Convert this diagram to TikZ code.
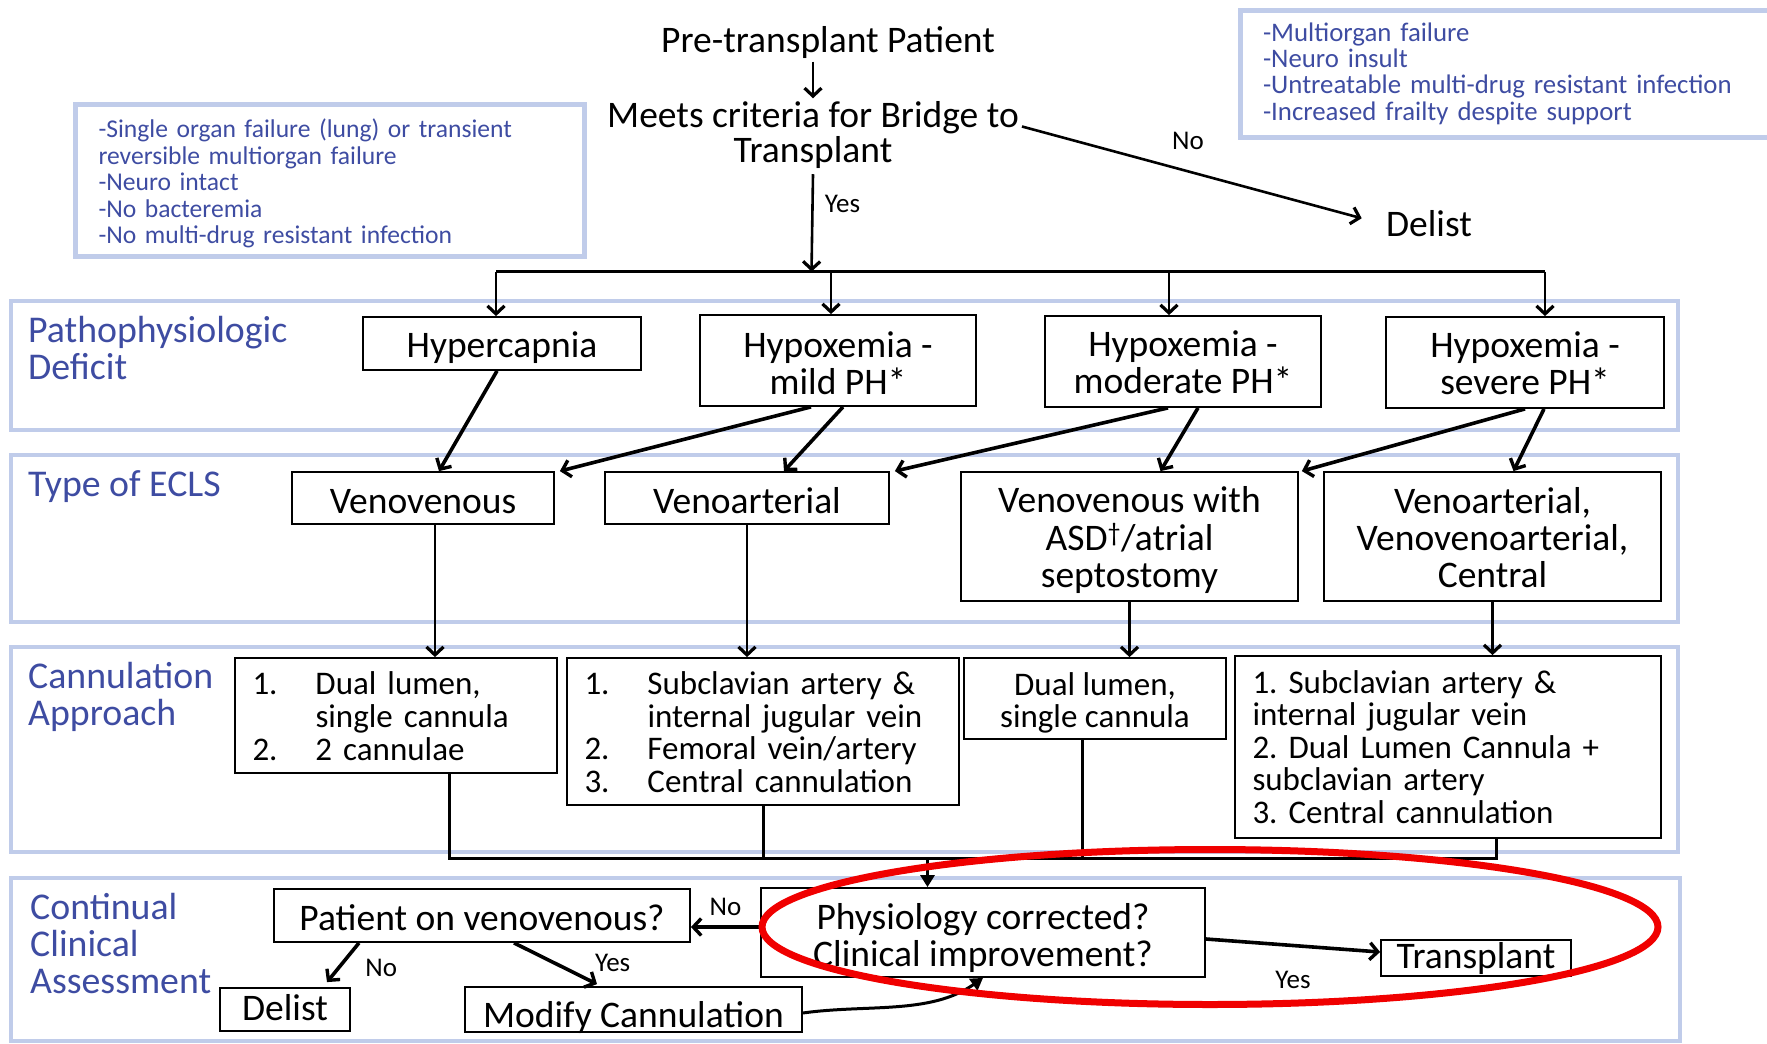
\documentclass[tikz,border=0pt]{standalone}
\usepackage{fontspec}
\setmainfont{Carlito}
\usepackage{tikz}
\usetikzlibrary{positioning,arrows.meta,calc}
\definecolor{bandline}{RGB}{192,204,234}
\definecolor{critblue}{RGB}{62,76,162}
\definecolor{ringred}{RGB}{240,0,0}
\setlength{\parindent}{0pt}
\frenchspacing
% lower a text inside its box, keep the box size
\newcommand{\lowered}[2]{\raisebox{-#1}[\height][\depth]{#2}}
\newcommand{\cstack}[1]{\begin{tabular}{@{}c@{}}#1\end{tabular}}
\tikzset{
  box/.style={rectangle,draw=black,line width=1.8pt,align=center,inner sep=0pt,font=\fontsize{37.5}{37}\selectfont},
  listbox/.style={rectangle,draw=black,line width=1.8pt,align=left,inner xsep=17.5pt,inner ysep=0pt,font=\fontsize{33}{32.5}\selectfont},
  critbox/.style={rectangle,draw=bandline,line width=5pt,align=left,inner xsep=23pt,inner ysep=0pt,text=critblue},
  band/.style={rectangle,draw=bandline,line width=4.5pt},
  bandlabel/.style={anchor=west,align=left,text=critblue,inner sep=0pt,font=\fontsize{37.8}{37}\selectfont},
  txt/.style={align=center,inner sep=3pt,font=\fontsize{37.5}{35}\selectfont},
  tagtxt/.style={inner sep=3pt,font=\fontsize{27}{27}\selectfont},
  arr/.style={-{Straight Barb[length=8pt,width=17pt,line width=3.4pt]},line width=3.6pt},
  thinarr/.style={-{Straight Barb[length=8pt,width=17pt,line width=3.2pt]},line width=2.6pt},
  fillarr/.style={-{Triangle[length=12pt,width=14pt]},line width=3pt},
  joinline/.style={line width=3pt}
}
\begin{document}
\begin{tikzpicture}[x=1pt,y=-1pt]
  \useasboundingbox (0,0) rectangle (1767,1044);

  % bands
  \node[band,minimum width=1667pt,minimum height=129pt] (bandA) at (844.5,365.5) {};
  \node[band,minimum width=1667pt,minimum height=167pt] (bandB) at (844.5,538.5) {};
  \node[band,minimum width=1667pt,minimum height=205pt] (bandC) at (844.5,749.5) {};
  \node[band,minimum width=1669pt,minimum height=163pt] (bandD) at (845.5,959.5) {};
  \node[bandlabel] (pathoL) at (28,348) {Pathophysiologic\\Deficit};
  \node[bandlabel] (eclsL) at (28,486.3) {Type of ECLS};
  \node[bandlabel] (cannL) at (28,697.3) {Cannulation\\Approach};
  \node[bandlabel] (assessL) at (30,944) {Continual\\Clinical\\Assessment};

  % top part
  \node[txt] (pre) at (828,42.5) {Pre-transplant Patient};
  \node[txt] (meets) at (813,135) {Meets criteria for Bridge to\\Transplant};
  \node[txt] (dtop) at (1429,224) {Delist};
  \node[critbox,font=\fontsize{25.6}{26.5}\selectfont,text width=463pt,minimum height=152pt] (lcrit) at (330,180)
    {\rule{0pt}{26pt}-Single organ failure (lung) or transient\\reversible multiorgan failure\\-Neuro intact\\-No bacteremia\\-No multi-drug resistant infection};
  \node[critbox,font=\fontsize{26.8}{26.3}\selectfont,text width=504pt,minimum height=127pt] (rcrit) at (1515,73.5)
    {-Multiorgan failure\\-Neuro insult\\-Untreatable multi-drug resistant infection\\-Increased frailty despite support};

  % deficits
  \node[box,minimum width=278pt,minimum height=53pt] (hyp) at (502,343.5) {\lowered{4.5pt}{Hypercapnia}};
  \node[box,minimum width=276pt,minimum height=91pt] (mild) at (838,360.5) {\lowered{8pt}{\cstack{Hypoxemia -\\mild PH*}}};
  \node[box,minimum width=276pt,minimum height=91pt] (mod) at (1183,361.5) {\lowered{6pt}{\cstack{Hypoxemia -\\moderate PH*}}};
  \node[box,minimum width=278pt,minimum height=91pt] (sev) at (1525,362.5) {\lowered{6pt}{\cstack{Hypoxemia -\\severe PH*}}};

  % ECLS types
  \node[box,minimum width=262pt,minimum height=52pt] (vv) at (423,498) {\lowered{3.4pt}{Venovenous}};
  \node[box,minimum width=284pt,minimum height=52pt] (va) at (747,498) {\lowered{3pt}{Venoarterial}};
  \node[box,minimum width=337pt,minimum height=129pt] (asd) at (1129.5,536.5) {\lowered{6.2pt}{\cstack{Venovenous with\\ASD\textsuperscript{\textdagger}/atrial\\septostomy}}};
  \node[box,minimum width=337pt,minimum height=129pt] (cen) at (1492.5,536.5) {\lowered{6.6pt}{\cstack{Venoarterial,\\Venovenoarterial,\\Central}}};

  % cannulation
  \node[listbox,text width=287pt,minimum height=115pt] (can1) at (396,715.5)
    {\lowered{5.3pt}{\begin{tabular}{@{}p{63pt}@{}l@{}}1. & Dual lumen,\\ & single cannula\\2. & 2 cannulae\end{tabular}}};
  \node[listbox,text width=357pt,minimum height=147pt] (can2) at (763,731.5)
    {\lowered{5.3pt}{\begin{tabular}{@{}p{63pt}@{}l@{}}1. & Subclavian artery \&\\ & internal jugular vein\\2. & Femoral vein/artery\\3. & Central cannulation\end{tabular}}};
  \node[box,font=\fontsize{33}{32.5}\selectfont,minimum width=262pt,minimum height=81pt] (can3) at (1095,698.5) {\lowered{6.3pt}{\cstack{Dual lumen,\\single cannula}}};
  \node[listbox,text width=391pt,minimum height=182pt] (can4) at (1448,747)
    {1. Subclavian artery \&\\internal jugular vein\\2. Dual Lumen Cannula +\\subclavian artery\\3. Central cannulation};

  % assessment
  \node[box,minimum width=444pt,minimum height=89pt] (phys) at (983,932.5) {\lowered{7.9pt}{\cstack{Physiology corrected?\\Clinical improvement?}}};
  \node[box,minimum width=416pt,minimum height=53pt] (pat) at (482,915.5) {\lowered{2.3pt}{Patient on venovenous?}};
  \node[box,minimum width=130pt,minimum height=43pt] (dlow) at (285,1009.5) {\lowered{-2.3pt}{Delist}};
  \node[box,minimum width=337pt,minimum height=45pt] (modc) at (633.5,1009.5) {\lowered{7.9pt}{Modify Cannulation}};
  \node[box,minimum width=190pt,minimum height=36pt] (tx) at (1476,958) {Transplant};

  % top arrows
  \coordinate (bar) at (811.5,271.6);
  \draw[thinarr] (pre.south -| meets.north) -- (meets.north);
  \draw[thinarr] ([yshift=-2.5pt]meets.south) -- node[tagtxt,right=8pt,pos=0.3]{Yes} (bar);
  \draw[thinarr,shorten >=22pt] ([yshift=8.5pt]meets.east) -- node[tagtxt,above=17pt,pos=0.46]{No} (dtop.west);
  \draw[joinline] ([xshift=-6pt]hyp.north |- bar) -- ([xshift=20pt]sev.north |- bar);
  \draw[thinarr] ([xshift=-6pt]hyp.north |- bar) -- ([xshift=-6pt]hyp.north);
  \draw[thinarr] ([xshift=-7pt]mild.north |- bar) -- ([xshift=-7pt]mild.north);
  \draw[thinarr] ([xshift=-14pt]mod.north |- bar) -- ([xshift=-14pt]mod.north);
  \draw[thinarr] ([xshift=20pt]sev.north |- bar) -- ([xshift=20pt]sev.north);

  % deficit to ECLS
  \draw[arr] ([xshift=-5pt]hyp.south) -- ([xshift=16pt]vv.north);
  \draw[arr] ([xshift=-27pt]mild.south) -- ([xshift=5pt]vv.north east);
  \draw[arr] ([xshift=5pt]mild.south) -- ([xshift=37pt]va.north);
  \draw[arr] ([xshift=-15pt]mod.south) -- ([xshift=5pt]va.north east);
  \draw[arr] ([xshift=15pt]mod.south) -- ([xshift=31pt]asd.north);
  \draw[arr] (sev.south) -- ([xshift=3pt]asd.north east);
  \draw[arr] ([xshift=19pt]sev.south) -- ([xshift=21pt]cen.north);

  % ECLS to cannulation
  \draw[thinarr] ([xshift=12pt]vv.south) -- ([xshift=12pt]vv.south |- can1.north);
  \draw[thinarr] (va.south) -- (va.south |- can2.north);
  \draw[thinarr] (asd.south) -- (asd.south |- can3.north);
  \draw[thinarr] (cen.south) -- (cen.south |- can4.north);

  % merge into assessment
  \coordinate (merge) at (927.5,858);
  \draw[joinline] ([xshift=53pt]can1.south) |- (merge) -| ([xshift=48pt]can4.south);
  \draw[joinline] (can2.south) -- (can2.south |- merge);
  \draw[joinline] ([xshift=-12.5pt]can3.south) -- ([xshift=-12.5pt]can3.south |- merge);
  \draw[fillarr] (merge) -- (merge |- phys.north);

  % assessment arrows
  \draw[arr] ([yshift=5.5pt]phys.west) -- node[tagtxt,above=7pt]{No} ([yshift=5.5pt]phys.west -| pat.east);
  \draw[arr] ([xshift=-123pt]pat.south) -- node[tagtxt,right=22pt,pos=0.64]{No} ([xshift=42pt,yshift=5pt]dlow.north);
  \draw[arr] ([xshift=32pt]pat.south) -- node[tagtxt,pos=0.75,right=14pt,yshift=11pt]{Yes} ([xshift=-36.5pt,yshift=2pt]modc.north);
  \draw[fillarr] ([yshift=-3.5pt]modc.east) to[out=8,in=-145,looseness=0.9] (phys.south);
  \draw[arr] ([yshift=-6.5pt]phys.east) -- node[tagtxt,below=21pt]{Yes} ([yshift=6pt]tx.west);

  % highlight
  \draw[ringred,line width=7pt] (1210,927) ellipse [x radius=448pt,y radius=77.5pt];
\end{tikzpicture}
\end{document}
